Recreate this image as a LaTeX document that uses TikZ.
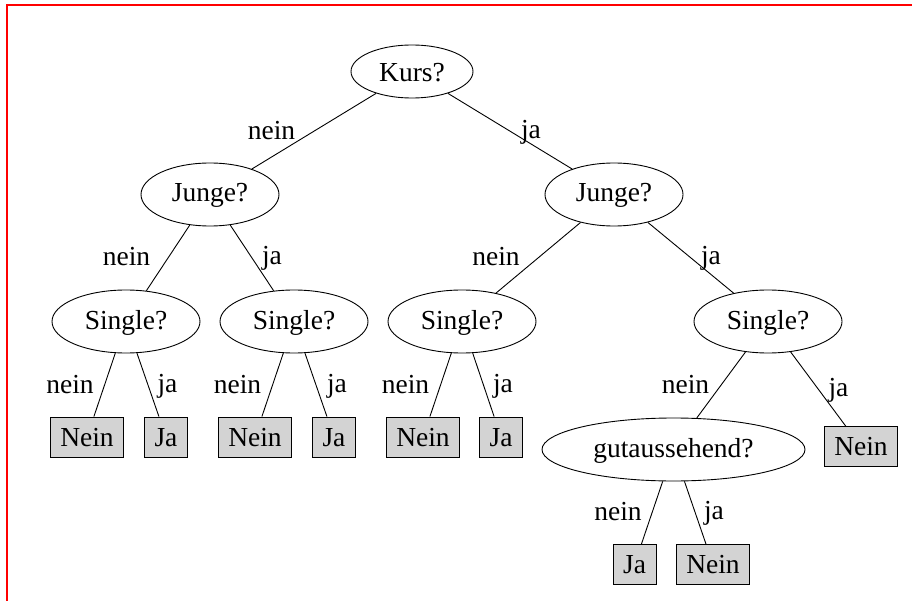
\documentclass[tikz,border=0pt]{standalone}
\usepackage{fontspec}
\setmainfont{Liberation Serif}
\usetikzlibrary{shapes.geometric}
\definecolor{leafgray}{RGB}{211,211,211}
\begin{document}
\begin{tikzpicture}[x=1pt,y=-1pt,
  every node/.style={font=\fontsize{27.5}{33}\selectfont},
  test/.style={draw, ellipse, inner sep=0pt, line width=0.9pt,
    text height=19pt, text depth=4pt, minimum height=63pt},
  leaf/.style={draw, rectangle, fill=leafgray, line width=0.9pt,
    inner xsep=10pt, inner ysep=0pt, minimum height=40pt,
    text height=20pt, text depth=2pt},
  lbl/.style={anchor=base, inner sep=0pt},
  branch/.style={line width=0.9pt}]
\useasboundingbox (0,0) rectangle (912,601);

% frame along the top and left edges
\draw[red, line width=2pt] (6.5,601) -- (6.5,5.5) -- (912,5.5);

% decision nodes
\node[test, minimum width=122pt, minimum height=53pt, text height=24pt] (kurs) at (412,71.5) {Kurs?};
\node[test, minimum width=138pt] (j1) at (210,194.5) {Junge?};
\node[test, minimum width=138pt] (j2) at (614,194.5) {Junge?};
\node[test, minimum width=148pt] (s1) at (126,321.5) {Single?};
\node[test, minimum width=148pt] (s2) at (294,321.5) {Single?};
\node[test, minimum width=148pt] (s3) at (462,321.5) {Single?};
\node[test, minimum width=148pt] (s4) at (768,321.5) {Single?};
\node[test, minimum width=263pt] (g) at (673.5,449.5) {gutaussehend?};

% leaves
\node[leaf] (l1) at (87,437) {Nein};
\node[leaf] (l2) at (166,437) {Ja};
\node[leaf] (l3) at (255,437) {Nein};
\node[leaf] (l4) at (334,437) {Ja};
\node[leaf] (l5) at (423,437) {Nein};
\node[leaf] (l6) at (501,437) {Ja};
\node[leaf] (l7) at (861,446.7) {Nein};
\node[leaf] (l8) at (634.5,564.5) {Ja};
\node[leaf] (l9) at (713,564.5) {Nein};

% branches
\draw[branch] (kurs) -- (j1);
\draw[branch] (kurs) -- (j2);
\draw[branch] (j1) -- (s1);
\draw[branch] (j1) -- (s2);
\draw[branch] (j2) -- (s3);
\draw[branch] (j2) -- (s4);
\draw[branch] (s1) -- (l1);
\draw[branch] (s1) -- (l2);
\draw[branch] (s2) -- (l3);
\draw[branch] (s2) -- (l4);
\draw[branch] (s3) -- (l5);
\draw[branch] (s3) -- (l6);
\draw[branch] (s4) -- (g);
\draw[branch] (s4) -- (l7);
\draw[branch] (g) -- (l8);
\draw[branch] (g) -- (l9);

% branch labels
\node[lbl] (t1) at (271.5,140) {nein};
\node[lbl] (t2) at (531,139) {ja};
\node[lbl] (t3) at (126.5,266) {nein};
\node[lbl] (t4) at (272,265) {ja};
\node[lbl] (t5) at (496,266) {nein};
\node[lbl] (t6) at (711,265) {ja};
\node[lbl] (t7) at (70,393) {nein};
\node[lbl] (t8) at (167.5,392) {ja};
\node[lbl] (t9) at (237.5,393) {nein};
\node[lbl] (t10) at (337,392) {ja};
\node[lbl] (t11) at (405.5,393) {nein};
\node[lbl] (t12) at (503,392) {ja};
\node[lbl] (t13) at (685.5,393) {nein};
\node[lbl] (t14) at (838.5,396) {ja};
\node[lbl] (t15) at (618,520) {nein};
\node[lbl] (t16) at (714,519) {ja};
\end{tikzpicture}
\end{document}
